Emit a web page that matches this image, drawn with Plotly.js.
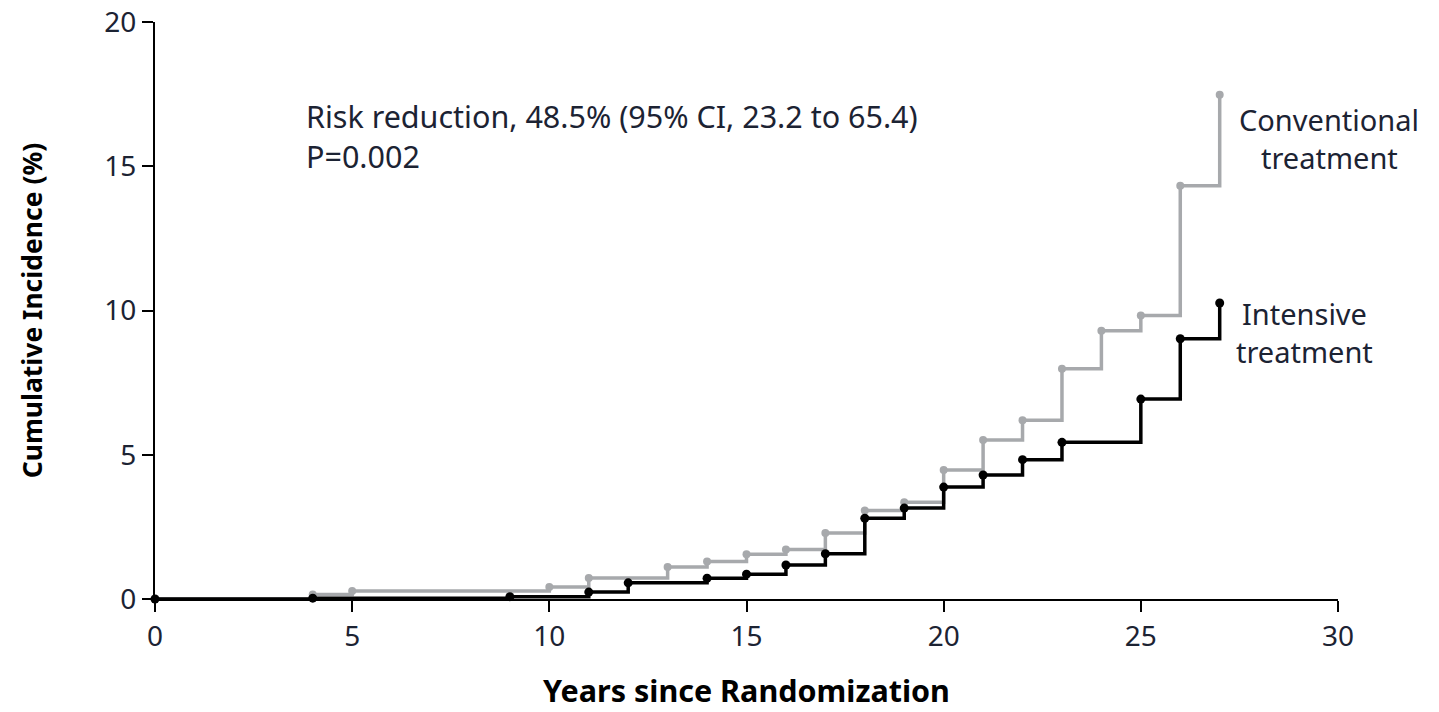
<!DOCTYPE html>
<html>
<head>
<meta charset="utf-8">
<script src="https://cdn.plot.ly/plotly-3.0.1.min.js"></script>
<style>
  html, body { margin: 0; padding: 0; background: #fff; }
  #chart { width: 1439px; height: 712px; }
</style>
</head>
<body>
<div id="chart"></div>
<script>
// Cumulative incidence by year since randomization (%)
const conventionalYears = [0, 4, 5, 10, 11, 13, 14, 15, 16, 17, 18, 19, 20, 21, 22, 23, 24, 25, 26, 27];
const conventionalIncidence = [0, 0.16, 0.28, 0.42, 0.73, 1.11, 1.3, 1.55, 1.72, 2.29, 3.07, 3.35, 4.47, 5.51, 6.2, 7.98, 9.3, 9.83, 14.32, 17.48];

const intensiveYears = [0, 4, 9, 11, 12, 14, 15, 16, 17, 18, 19, 20, 21, 22, 23, 25, 26, 27];
const intensiveIncidence = [0, 0.03, 0.08, 0.24, 0.56, 0.72, 0.86, 1.18, 1.57, 2.8, 3.15, 3.88, 4.3, 4.83, 5.43, 6.93, 9.02, 10.26];

const xTicks = [0, 5, 10, 15, 20, 25, 30];
const yTicks = [0, 5, 10, 15, 20];

const FONT = 'Noto Sans, sans-serif';
const GRAY = '#a7a9ac';
const TEXT = '#1c2333';

const traces = [
  {
    x: conventionalYears, y: conventionalIncidence,
    type: 'scatter', mode: 'lines+markers',
    line: { shape: 'hv', color: GRAY, width: 3.5 },
    marker: { color: GRAY, size: 8 },
    cliponaxis: false, hoverinfo: 'skip', name: 'Conventional treatment'
  },
  {
    x: intensiveYears, y: intensiveIncidence,
    type: 'scatter', mode: 'lines+markers',
    line: { shape: 'hv', color: '#000', width: 3.5 },
    marker: { color: '#000', size: 9 },
    cliponaxis: false, hoverinfo: 'skip', name: 'Intensive treatment'
  }
];

const axisCommon = {
  showgrid: false, zeroline: false, showline: true,
  linecolor: '#000', linewidth: 2,
  ticks: 'outside', ticklen: 11, tickwidth: 2, tickcolor: '#000',
  tickfont: { family: FONT, size: 28, color: TEXT },
  fixedrange: true
};

// place a text line at a pixel-like position inside the plot frame
function note(text, px, py, anchor, size) {
  return {
    text: text, xref: 'paper', yref: 'paper',
    x: (px - 155) / 1183, y: (599 - py) / 577,
    xanchor: anchor, yanchor: 'middle', showarrow: false,
    font: { family: FONT, size: size, color: TEXT }
  };
}

const layout = {
  width: 1439, height: 712,
  margin: { l: 155, r: 101, t: 22, b: 113 },
  paper_bgcolor: '#fff', plot_bgcolor: '#fff',
  showlegend: false,
  xaxis: Object.assign({}, axisCommon, {
    range: [0, 30], tickvals: xTicks, ticktext: xTicks.map(String),
    title: { text: '<b>Years since Randomization</b>', font: { family: FONT, size: 30.5, color: '#000' }, standoff: 28 }
  }),
  yaxis: Object.assign({}, axisCommon, {
    range: [0, 20], tickvals: yTicks, ticktext: yTicks.map(String),
    title: { text: '<b>Cumulative Incidence (%)</b>', font: { family: FONT, size: 26.5, color: '#000' }, standoff: 54 }
  }),
  annotations: [
    note('Risk reduction, 48.5% (95% CI, 23.2 to 65.4)', 304, 116, 'left', 30.5),
    note('P=0.002', 304, 156, 'left', 30.5),
    note('Conventional', 1329, 119, 'center', 29),
    note('treatment', 1329, 157, 'center', 29),
    note('Intensive', 1304, 313, 'center', 29),
    note('treatment', 1304, 351, 'center', 29)
  ]
};

Plotly.newPlot('chart', traces, layout, { displayModeBar: false, staticPlot: true });
</script>
</body>
</html>
